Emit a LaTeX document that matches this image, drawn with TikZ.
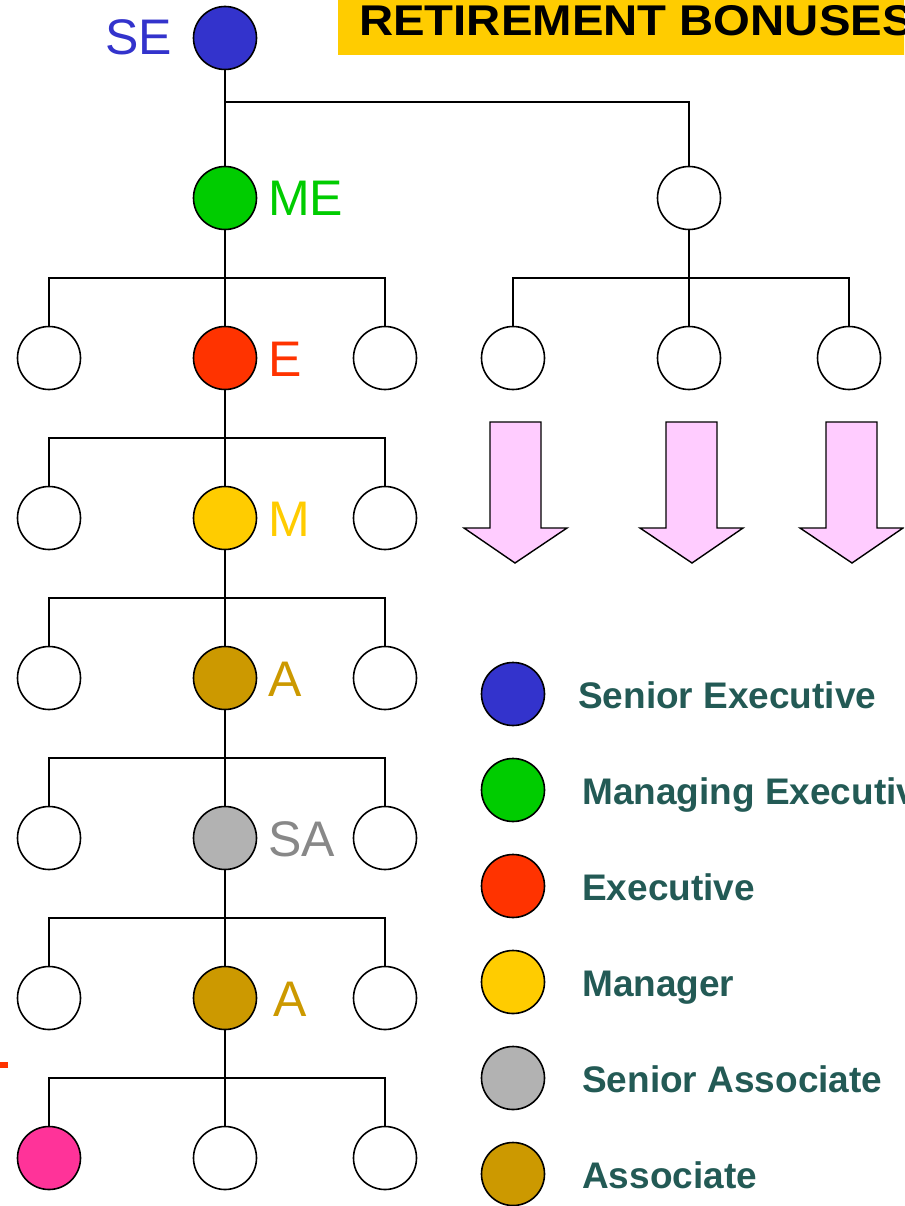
\documentclass[tikz,border=0pt]{standalone}
\usepackage{fontspec}
\setmainfont{Liberation Sans}
\definecolor{cSE}{HTML}{3333CC}
\definecolor{cME}{HTML}{00CC00}
\definecolor{cE}{HTML}{FF3300}
\definecolor{cM}{HTML}{FFCC00}
\definecolor{cA}{HTML}{CC9900}
\definecolor{cSA}{HTML}{B2B2B2}
\definecolor{cSAtxt}{HTML}{888888}
\definecolor{cPink}{HTML}{FF3399}
\definecolor{cArrow}{HTML}{FFCCFF}
\definecolor{cLeg}{HTML}{235A55}
\definecolor{cTitle}{HTML}{FFCC00}
\begin{document}
\begin{tikzpicture}[x=1pt,y=-1pt,
  pers/.style={circle,draw=black,line width=1.6pt,minimum size=63pt,inner sep=0pt,fill=white},
  conn/.style={draw=black,line width=1.4pt},
  lvl/.style={font=\fontsize{50}{60}\selectfont,anchor=base west,inner sep=0pt},
  leg/.style={font=\fontsize{37}{44}\selectfont\bfseries,text=cLeg,anchor=base west,inner sep=0pt},
  bigarrow/.style={draw=black,line width=1.4pt,fill=cArrow,line join=miter}]
\useasboundingbox (0,0) rectangle (904,1206);
\clip (0,0) rectangle (904,1206);
% title
\fill[cTitle] (338,0) rectangle (920,55);
\node[font=\fontsize{43}{50}\selectfont\bfseries,anchor=base west,inner sep=0pt,xscale=1.1,transform shape] (title) at (359,36) {RETIREMENT BONUSES};
% red mark
\fill[cE] (0,1062) rectangle (8,1068);
% trunk
\node[pers,fill=cSE] (SE) at (225,38) {};
\node[pers,fill=cME] (ME) at (225,198) {};
\node[pers,fill=cE] (E) at (225,358) {};
\node[pers,fill=cM] (M) at (225,518) {};
\node[pers,fill=cA] (A1) at (225,678) {};
\node[pers,fill=cSA] (SA) at (225,838) {};
\node[pers,fill=cA] (A2) at (225,998) {};
\node[pers] (B) at (225,1158) {};
% side circles
\node[pers] (L1) at (49,358) {}; \node[pers] (R1) at (385,358) {};
\node[pers] (L2) at (49,518) {}; \node[pers] (R2) at (385,518) {};
\node[pers] (L3) at (49,678) {}; \node[pers] (R3) at (385,678) {};
\node[pers] (L4) at (49,838) {}; \node[pers] (R4) at (385,838) {};
\node[pers] (L5) at (49,998) {}; \node[pers] (R5) at (385,998) {};
\node[pers,fill=cPink] (L6) at (49,1158) {}; \node[pers] (R6) at (385,1158) {};
% right branch
\node[pers] (T) at (689,198) {};
\node[pers] (TL) at (513,358) {};
\node[pers] (TM) at (689,358) {};
\node[pers] (TR) at (849,358) {};
% labels
\node[lvl,text=cSE,anchor=base east] (lSE) at (172,55) {SE};
\node[lvl,text=cME] (lME) at (268,216) {ME};
\node[lvl,text=cE] (lE) at (268,376) {E};
\node[lvl,text=cM] (lM) at (268,536) {M};
\node[lvl,text=cA] (lA1) at (268,696) {A};
\node[lvl,text=cSAtxt] (lSA) at (268,856) {SA};
\node[lvl,text=cA] (lA2) at (273,1016) {A};
% junctions
\coordinate (j0) at (225,102);
\coordinate (j1) at (225,278);
\coordinate (j2) at (225,438);
\coordinate (j3) at (225,598);
\coordinate (j4) at (225,758);
\coordinate (j5) at (225,918);
\coordinate (j6) at (225,1078);
\coordinate (jt) at (689,278);
% connectors
\draw[conn] (SE) -- (ME);
\draw[conn] (j0) -| (T);
\draw[conn] (ME) -- (E);
\draw[conn] (E) -- (M);
\draw[conn] (M) -- (A1);
\draw[conn] (A1) -- (SA);
\draw[conn] (SA) -- (A2);
\draw[conn] (A2) -- (B);
\draw[conn] (j1) -| (L1); \draw[conn] (j1) -| (R1);
\draw[conn] (j2) -| (L2); \draw[conn] (j2) -| (R2);
\draw[conn] (j3) -| (L3); \draw[conn] (j3) -| (R3);
\draw[conn] (j4) -| (L4); \draw[conn] (j4) -| (R4);
\draw[conn] (j5) -| (L5); \draw[conn] (j5) -| (R5);
\draw[conn] (j6) -| (L6); \draw[conn] (j6) -| (R6);
\draw[conn] (T) -- (TM);
\draw[conn] (jt) -| (TL); \draw[conn] (jt) -| (TR);
% arrows
\draw[bigarrow] (490,422) -- (541,422) -- (541,528) -- (567,528) -- (515,563) -- (464,528) -- (490,528) -- cycle;
\draw[bigarrow] (666,422) -- (717,422) -- (717,528) -- (743,528) -- (692,563) -- (640,528) -- (666,528) -- cycle;
\draw[bigarrow] (826,422) -- (877,422) -- (877,528) -- (903,528) -- (852,563) -- (800,528) -- (826,528) -- cycle;
% legend
\node[pers,fill=cSE] (kSE) at (513,694) {};
\node[pers,fill=cME] (kME) at (513,790) {};
\node[pers,fill=cE] (kE) at (513,886) {};
\node[pers,fill=cM] (kM) at (513,982) {};
\node[pers,fill=cSA] (kSA) at (513,1078) {};
\node[pers,fill=cA] (kA) at (513,1174) {};
\node[leg] (tSE) at (578,708) {Senior Executive};
\node[leg] (tME) at (582,804) {Managing Executive};
\node[leg] (tE) at (582,900) {Executive};
\node[leg] (tM) at (582,996) {Manager};
\node[leg] (tSA) at (582,1092) {Senior Associate};
\node[leg] (tA) at (582,1188) {Associate};
\end{tikzpicture}
\end{document}
